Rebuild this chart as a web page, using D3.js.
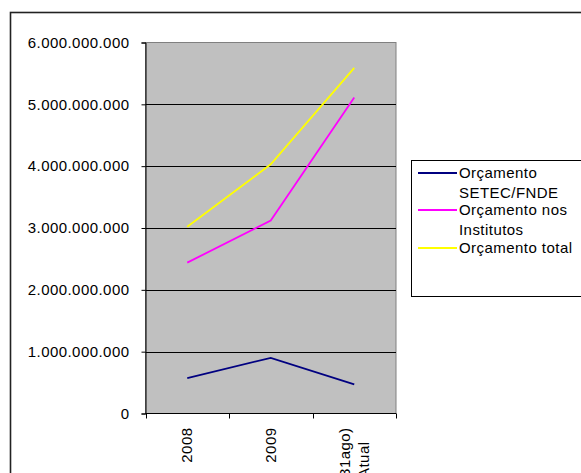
<!DOCTYPE html>
<html><head><meta charset="utf-8">
<script src="https://cdn.jsdelivr.net/npm/d3@7"></script>
<style>
html,body{margin:0;padding:0;background:#fff;}
svg{display:block;}
text{font-family:"Liberation Sans",Arial,sans-serif;font-size:15px;fill:#000;letter-spacing:0.45px;}
</style></head>
<body>
<svg id="chart" width="581" height="473"></svg>
<script>
const categories = ["2008", "2009", "2010 (31ago)|Atual"];
const seriesNames = ["Orçamento|SETEC/FNDE", "Orçamento nos|Institutos", "Orçamento total"];
const setec = [0.574e9, 0.90e9, 0.47e9];
const institutos = [2.44e9, 3.12e9, 5.11e9];
const total = [3.02e9, 4.03e9, 5.59e9];
const yTicks = [0, 1e9, 2e9, 3e9, 4e9, 5e9, 6e9];
const colors = ["#000080", "#ff00ff", "#ffff00"];

const series = [setec, institutos, total];
const svg = d3.select("#chart");
const W = 581, H = 473;
const plot = {left:145.5, right:396, top:42.5, bottom:413.5};

// outer chart border (clipped by image)
svg.append("rect").attr("x",10.5).attr("y",12.5).attr("width",W+20).attr("height",H+20)
  .attr("fill","#fff").attr("stroke","#222").attr("stroke-width",1.6);

const x = d3.scaleBand().domain(categories).range([plot.left, plot.right]).padding(0);
const y = d3.scaleLinear().domain([0, 6e9]).range([plot.bottom, plot.top]);

// plot area
svg.append("rect").attr("x",plot.left).attr("y",plot.top)
  .attr("width",plot.right-plot.left).attr("height",plot.bottom-plot.top)
  .attr("fill","#c0c0c0").attr("stroke","#808080").attr("stroke-width",1);

// gridlines
svg.append("g").selectAll("line").data(yTicks.filter(t=>t>0 && t<6e9)).join("line")
  .attr("x1",plot.left).attr("x2",plot.right)
  .attr("y1",d=>Math.round(y(d))+0.5).attr("y2",d=>Math.round(y(d))+0.5)
  .attr("stroke","#000").attr("stroke-width",1);

const loc = d3.formatLocale({decimal:",", thousands:".", grouping:[3], currency:["R$",""]});
const fmt = loc.format(",");

// y axis
const yAxis = d3.axisLeft(y).tickValues(yTicks).tickFormat(fmt).tickSize(4).tickPadding(12);
const gy = svg.append("g").attr("transform",`translate(${plot.left},0)`).call(yAxis);
gy.select(".domain").attr("stroke","#000");
gy.selectAll(".tick line").attr("stroke","#000");
gy.selectAll("text").attr("font-size",15).attr("font-family",null).attr("fill","#000");

// x axis
const gx = svg.append("g").attr("transform",`translate(0,${plot.bottom})`);
gx.append("line").attr("x1",plot.left).attr("x2",plot.right).attr("stroke","#000");
const edges = categories.map(c=>x(c)).concat([plot.right]);
gx.selectAll("line.tk").data(edges).join("line").attr("class","tk")
  .attr("x1",d=>Math.round(d)+0.5).attr("x2",d=>Math.round(d)+0.5).attr("y1",0).attr("y2",5).attr("stroke","#000");
const xl = gx.selectAll("g.lbl").data(categories).join("g").attr("class","lbl")
  .attr("transform",d=>`translate(${x(d)+x.bandwidth()/2},14) rotate(-90)`);
xl.each(function(d){
  const lines = d.split("|");
  const g = d3.select(this);
  const n = lines.length;
  lines.forEach((ln,i)=>{
    g.append("text").attr("text-anchor","end")
      .attr("x", i===0 ? 0 : -14)
      .attr("y", (i-(n-1)/2)*19 + 5)
      .text(ln);
  });
});

// lines
const line = d3.line().x((d,i)=>x(categories[i])+x.bandwidth()/2).y(d=>y(d));
svg.append("g").selectAll("path").data(series).join("path")
  .attr("d",d=>line(d)).attr("fill","none")
  .attr("stroke",(d,i)=>colors[i]).attr("stroke-width",1.8);

// legend
const lg = svg.append("g");
lg.append("rect").attr("x",411.5).attr("y",160.5).attr("width",200).attr("height",136)
  .attr("fill","#fff").attr("stroke","#000").attr("stroke-width",1);
const rowY = [173, 210, 248];
seriesNames.forEach((name,i)=>{
  lg.append("line").attr("x1",418).attr("x2",457).attr("y1",rowY[i]).attr("y2",rowY[i])
    .attr("stroke",colors[i]).attr("stroke-width",1.8);
  name.split("|").forEach((ln,j)=>{
    lg.append("text").attr("x",459).attr("y",rowY[i]+j*20+5).text(ln);
  });
});
</script>
</body></html>
